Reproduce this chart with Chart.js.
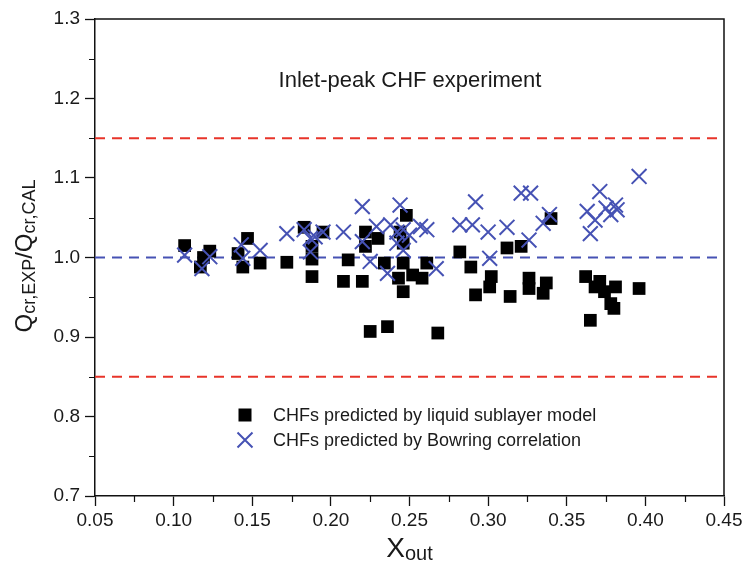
<!DOCTYPE html>
<html>
<head>
<meta charset="utf-8">
<script src="https://cdn.jsdelivr.net/npm/chart.js@4.4.1/dist/chart.umd.min.js"></script>
<style>
  html, body { margin: 0; padding: 0; background: #fff; }
  #wrap { width: 748px; height: 565px; }
</style>
</head>
<body>
<div id="wrap"><canvas id="c" width="748" height="565"></canvas></div>
<script>
// ---- data ----
const sublayerX = [0.107,0.117,0.119,0.123,0.141,0.144,0.147,0.155,0.172,0.183,0.188,0.188,0.188,0.195,0.208,0.211,0.220,0.222,0.222,0.225,0.230,0.234,0.236,0.244,0.246,0.248,0.246,0.243,0.246,0.252,0.258,0.261,0.268,0.282,0.289,0.292,0.301,0.302,0.312,0.314,0.321,0.326,0.326,0.335,0.337,0.340,0.362,0.365,0.368,0.371,0.374,0.378,0.380,0.381,0.396];
const sublayerY = [1.015,0.988,1.000,1.008,1.005,0.988,1.024,0.993,0.994,1.038,1.014,0.998,0.976,1.032,0.970,0.997,0.970,1.032,1.014,0.907,1.024,0.993,0.913,1.032,1.018,1.053,0.993,0.974,0.957,0.978,0.974,0.993,0.905,1.007,0.988,0.953,0.963,0.976,1.012,0.951,1.014,0.974,0.961,0.955,0.968,1.049,0.976,0.921,0.963,0.970,0.957,0.942,0.936,0.963,0.961];
const bowringX = [0.107,0.118,0.123,0.143,0.144,0.155,0.172,0.183,0.187,0.190,0.195,0.187,0.208,0.220,0.220,0.225,0.229,0.236,0.238,0.244,0.242,0.246,0.242,0.246,0.250,0.257,0.261,0.267,0.282,0.290,0.292,0.300,0.301,0.312,0.326,0.321,0.327,0.335,0.339,0.363,0.365,0.371,0.368,0.375,0.381,0.378,0.382,0.396];
const bowringY = [1.003,0.986,1.001,1.016,0.999,1.009,1.030,1.035,1.024,1.026,1.032,1.007,1.032,1.064,1.020,0.995,1.039,0.980,1.041,1.066,1.032,1.035,1.018,1.009,1.028,1.039,1.035,0.986,1.041,1.041,1.070,1.032,0.999,1.038,1.022,1.081,1.081,1.043,1.054,1.058,1.030,1.083,1.047,1.062,1.066,1.054,1.060,1.102];
const upperBound = 1.15;
const unityLine = 1.0;
const lowerBound = 0.85;
const xRange = [0.05, 0.45];
const yRange = [0.7, 1.3];
const xTickStep = 0.05;
const yTickStep = 0.1;
const seriesLabels = ['CHFs predicted by liquid sublayer model', 'CHFs predicted by Bowring correlation'];
const annotationText = 'Inlet-peak CHF experiment';

const FONT = '"Liberation Sans", Arial, Helvetica, sans-serif';
const BLUE = '#4652b4';
const RED = '#e8342a';

const toPts = (xs, ys) => xs.map((x, i) => ({ x: x, y: ys[i] }));
const hLine = v => [{ x: xRange[0], y: v }, { x: xRange[1], y: v }];

const framePlugin = {
  id: 'frameAndText',
  afterDraw(chart) {
    const ctx = chart.ctx;
    const a = chart.chartArea;
    const xs = chart.scales.x, ys = chart.scales.y;
    ctx.save();
    // frame top + right
    ctx.strokeStyle = '#111';
    ctx.lineWidth = 1.5;
    ctx.beginPath();
    ctx.moveTo(a.left, a.top);
    ctx.lineTo(a.right, a.top);
    ctx.lineTo(a.right, a.bottom);
    ctx.stroke();
    // minor ticks
    ctx.lineWidth = 1.2;
    ctx.beginPath();
    for (let v = xRange[0] + xTickStep / 2; v < xRange[1]; v += xTickStep) {
      const px = Math.round(xs.getPixelForValue(v)) + 0.5;
      ctx.moveTo(px, a.bottom);
      ctx.lineTo(px, a.bottom + 6);
    }
    for (let v = yRange[0] + yTickStep / 2; v < yRange[1]; v += yTickStep) {
      const py = Math.round(ys.getPixelForValue(v)) + 0.5;
      ctx.moveTo(a.left, py);
      ctx.lineTo(a.left - 6, py);
    }
    ctx.stroke();

    // annotation
    ctx.fillStyle = '#1a1a1a';
    ctx.textAlign = 'center';
    ctx.textBaseline = 'alphabetic';
    ctx.font = '22px ' + FONT;
    ctx.fillText(annotationText, 410, 87);

    // x title X_out
    ctx.textAlign = 'left';
    const bigX = '28px ' + FONT, subX = '20px ' + FONT;
    ctx.font = bigX; const wX = ctx.measureText('X').width;
    ctx.font = subX; const wO = ctx.measureText('out').width;
    let sx = (a.left + a.right) / 2 - (wX + wO) / 2;
    ctx.font = bigX; ctx.fillText('X', sx, 557);
    ctx.font = subX; ctx.fillText('out', sx + wX, 560);

    // y title Q_cr,EXP / Q_cr,CAL
    const runs = [
      ['Q', '24px ' + FONT, 0],
      ['cr,EXP', '18px ' + FONT, 3],
      ['/', '24px ' + FONT, 0],
      ['Q', '24px ' + FONT, 0],
      ['cr,CAL', '18px ' + FONT, 3]
    ];
    let total = 0;
    runs.forEach(r => { ctx.font = r[1]; r.push(ctx.measureText(r[0]).width); total += r[3]; });
    ctx.translate(32, 256);
    ctx.rotate(-Math.PI / 2);
    let pos = -total / 2;
    runs.forEach(r => { ctx.font = r[1]; ctx.fillText(r[0], pos, r[2]); pos += r[3]; });
    ctx.restore();

    // legend
    ctx.save();
    ctx.font = '18px ' + FONT;
    ctx.textBaseline = 'middle';
    ctx.textAlign = 'left';
    const lx = 245, ly1 = 415, ly2 = 440;
    ctx.fillStyle = '#000';
    ctx.fillRect(lx - 6.5, ly1 - 6.5, 13, 13);
    ctx.strokeStyle = BLUE; ctx.lineWidth = 2;
    ctx.beginPath();
    ctx.moveTo(lx - 7.5, ly2 - 7.5); ctx.lineTo(lx + 7.5, ly2 + 7.5);
    ctx.moveTo(lx - 7.5, ly2 + 7.5); ctx.lineTo(lx + 7.5, ly2 - 7.5);
    ctx.stroke();
    ctx.fillStyle = '#1a1a1a';
    ctx.fillText(seriesLabels[0], 273, ly1 + 1);
    ctx.fillText(seriesLabels[1], 273, ly2 + 1);
    ctx.restore();
  }
};

new Chart(document.getElementById('c'), {
  type: 'scatter',
  data: {
    datasets: [
      {
        label: seriesLabels[1],
        data: toPts(bowringX, bowringY),
        pointStyle: 'crossRot',
        pointRadius: 10.5,
        pointHoverRadius: 10.5,
        borderColor: BLUE,
        backgroundColor: BLUE,
        pointBorderWidth: 2,
        borderWidth: 2,
        order: 0
      },
      {
        label: seriesLabels[0],
        data: toPts(sublayerX, sublayerY),
        pointStyle: 'rect',
        pointRadius: 9,
        pointHoverRadius: 9,
        backgroundColor: '#000',
        borderColor: '#000',
        borderWidth: 0,
        order: 1
      },
      {
        type: 'line', label: 'upper', data: hLine(upperBound),
        borderColor: RED, borderWidth: 2, borderDash: [10, 7], pointRadius: 0, order: 2
      },
      {
        type: 'line', label: 'unity', data: hLine(unityLine),
        borderColor: BLUE, borderWidth: 2, borderDash: [10, 7], pointRadius: 0, order: 2
      },
      {
        type: 'line', label: 'lower', data: hLine(lowerBound),
        borderColor: RED, borderWidth: 2, borderDash: [10, 7], pointRadius: 0, order: 2
      }
    ]
  },
  options: {
    responsive: false,
    animation: false,
    events: [],
    layout: { padding: { top: 19, right: 24, left: 0, bottom: 0 } },
    plugins: { legend: { display: false }, tooltip: { enabled: false }, title: { display: false } },
    scales: {
      x: {
        type: 'linear',
        min: xRange[0], max: xRange[1],
        afterFit: s => { s.height = 69; },
        afterBuildTicks: s => {
          const t = [];
          for (let v = xRange[0]; v <= xRange[1] + 1e-9; v += xTickStep) t.push({ value: +v.toFixed(3) });
          s.ticks = t;
        },
        ticks: {
          callback: v => v.toFixed(2),
          color: '#1a1a1a',
          font: { family: FONT, size: 19 },
          padding: 3,
          maxRotation: 0,
          autoSkip: false
        },
        grid: { drawOnChartArea: false, drawTicks: true, tickLength: 10, tickColor: '#111', tickWidth: 1.3 },
        border: { color: '#111', width: 1.5 }
      },
      y: {
        type: 'linear',
        min: yRange[0], max: yRange[1],
        afterFit: s => { s.width = 95; },
        afterBuildTicks: s => {
          const t = [];
          for (let v = yRange[0]; v <= yRange[1] + 1e-9; v += yTickStep) t.push({ value: +v.toFixed(3) });
          s.ticks = t;
        },
        ticks: {
          callback: v => v.toFixed(1),
          color: '#1a1a1a',
          font: { family: FONT, size: 19 },
          padding: 5,
          autoSkip: false
        },
        grid: { drawOnChartArea: false, drawTicks: true, tickLength: 10, tickColor: '#111', tickWidth: 1.3 },
        border: { color: '#111', width: 1.5 }
      }
    }
  },
  plugins: [framePlugin]
});
</script>
</body>
</html>
